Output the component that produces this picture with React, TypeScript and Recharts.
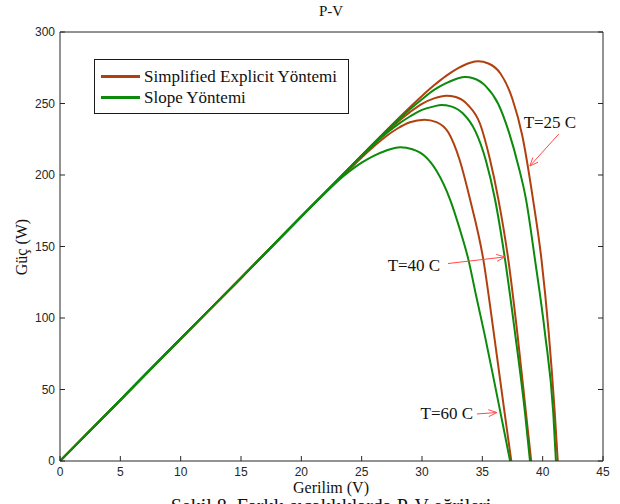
import { LineChart, Line, XAxis, YAxis, Legend, ReferenceLine, ReferenceDot } from 'recharts';

const xTicks = [0, 5, 10, 15, 20, 25, 30, 35, 40, 45];
const yTicks = [0, 50, 100, 150, 200, 250, 300];

// Simplified Explicit Yöntemi (brown)
const se25V = [0, 5, 10, 15, 20, 25, 26, 27, 28, 29, 30, 31, 32, 33, 34, 34.66, 35.5, 36.5, 37.5, 38.3, 39.2, 39.9, 40.5, 41.0, 41.25];
const se25P = [0, 42.7, 85.5, 128, 171, 213.7, 222.3, 230.8, 239.2, 247.4, 255.3, 262.7, 269.3, 274.7, 278.5, 279.5, 278, 271, 253, 228, 183, 141, 90, 34, 0];
const se40V = [0, 5, 10, 15, 20, 24, 25, 26, 27, 28, 29, 30, 31, 32, 32.8, 33.8, 34.8, 35.6, 36.33, 37.15, 37.9, 38.62, 39.05];
const se40P = [0, 42.7, 85.5, 128, 171, 205, 213.5, 221.8, 229.8, 237.3, 244, 249.8, 253.6, 255.5, 254.5, 249, 236, 212, 183, 141, 89.5, 33.4, 0];
const se60V = [0, 5, 10, 15, 20, 24, 25, 26, 27, 28, 29, 30.2, 31.2, 32.2, 33.1, 33.98, 35.08, 35.95, 36.85, 37.4];
const se60P = [0, 42.7, 85.5, 128, 171, 204, 212.2, 219.9, 226.9, 232.7, 236.9, 238.7, 237, 229.5, 211, 183, 141, 89.5, 33.4, 0];

// Slope Yöntemi (green)
const sl25V = [0, 5, 10, 15, 20, 25, 26, 27, 28, 29, 30, 31, 32, 33, 33.55, 34.3, 35.3, 36.3, 37.2, 38, 38.62, 39.36, 40.19, 40.88, 41.1];
const sl25P = [0, 42.7, 85.5, 128, 171, 213.6, 222.2, 230.5, 238.5, 246, 253, 259.5, 264.2, 267.7, 268.5, 267.5, 262, 250, 230, 206, 183, 141, 89.5, 33.4, 0];
const sl40V = [0, 5, 10, 15, 20, 24, 25, 26, 27, 28, 29, 30, 31, 31.6, 32.4, 33.4, 34.4, 35.3, 36.05, 36.88, 37.71, 38.54, 38.95];
const sl40P = [0, 42.7, 85.5, 128, 171, 205, 213.4, 221.4, 228.8, 235.4, 240.9, 245.5, 248, 249, 248, 243, 231, 210, 183, 141, 89.5, 33.4, 0];
const sl60V = [0, 5, 10, 15, 20, 21, 22, 23, 24, 25, 26, 27, 28.2, 29.2, 30.2, 31.2, 32.32, 33.1, 33.84, 34.5, 35.2, 36.0, 36.7, 37.3];
const sl60P = [0, 42.7, 85.5, 128, 171, 179.5, 187.8, 195.6, 202.6, 208.6, 213.4, 217, 219.4, 218, 213.5, 203, 183, 163, 141, 115, 88, 55, 25.5, 0];

const BROWN = '#b0410e';
const GREEN = '#0b8a0b';

const legendItems = [
  { name: 'Simplified Explicit Yöntemi', color: BROWN },
  { name: 'Slope Yöntemi', color: GREEN },
];

// temperature labels: text centre and arrow (from -> to), in data units
const annotations = [
  { text: 'T=25 C', tx: 40.6, ty: 237, from: [41.34, 228.7], to: [38.94, 206.3] },
  { text: 'T=40 C', tx: 29.33, ty: 136.4, from: [32.15, 138.1], to: [36.87, 142.7] },
  { text: 'T=60 C', tx: 32.06, ty: 32.9, from: [34.55, 32.9], to: [36.2, 33.9] },
];

const toPoints = (v: number[], p: number[]) => v.map((x, i) => ({ v: x, p: p[i] }));

const curves = [
  { key: 'se25', color: BROWN, data: toPoints(se25V, se25P) },
  { key: 'se40', color: BROWN, data: toPoints(se40V, se40P) },
  { key: 'se60', color: BROWN, data: toPoints(se60V, se60P) },
  { key: 'sl25', color: GREEN, data: toPoints(sl25V, sl25P) },
  { key: 'sl40', color: GREEN, data: toPoints(sl40V, sl40P) },
  { key: 'sl60', color: GREEN, data: toPoints(sl60V, sl60P) },
];

const serif = '"Liberation Serif", "Times New Roman", serif';
const tickStyle = { fontFamily: '"Liberation Sans", Arial, sans-serif', fontSize: 12, fill: '#262626' };
const axisColor = '#262626';

function Arrow(props: any) {
  const { x1, y1, x2, y2 } = props;
  const ang = Math.atan2(y2 - y1, x2 - x1);
  const len = 9;
  const a1 = ang + Math.PI - 0.4;
  const a2 = ang + Math.PI + 0.4;
  const head = `${x2 + len * Math.cos(a1)},${y2 + len * Math.sin(a1)} ${x2},${y2} ${x2 + len * Math.cos(a2)},${y2 + len * Math.sin(a2)}`;
  return (
    <g>
      <line x1={x1} y1={y1} x2={x2} y2={y2} stroke="#ff4a4a" strokeWidth={1} />
      <polyline points={head} fill="none" stroke="#ff4a4a" strokeWidth={1} />
    </g>
  );
}

function renderLegend() {
  return (
    <div
      style={{
        boxSizing: 'border-box',
        width: 255,
        height: 55,
        border: '1.5px solid #1a1a1a',
        background: '#fff',
        padding: '6px 0 0 6px',
      }}
    >
      {legendItems.map((item) => (
        <div key={item.name} style={{ display: 'flex', alignItems: 'center', height: 21 }}>
          <span style={{ display: 'inline-block', width: 39, height: 2.5, background: item.color }} />
          <span style={{ marginLeft: 4, fontFamily: serif, fontSize: 17, color: '#111', whiteSpace: 'nowrap' }}>{item.name}</span>
        </div>
      ))}
    </div>
  );
}

export default function App() {
  return (
    <div style={{ position: 'absolute', left: 0, top: 0, width: 620, height: 504, overflow: 'hidden', background: '#fff' }}>
      <LineChart width={620} height={504} margin={{ top: 30, right: 15, bottom: 13, left: 0 }}>
        <XAxis
          dataKey="v"
          type="number"
          domain={[0, 45]}
          ticks={xTicks}
          height={30}
          tickSize={-5}
          tickMargin={11}
          tick={tickStyle}
          stroke={axisColor}
          allowDataOverflow
        />
        <XAxis
          xAxisId="top"
          orientation="top"
          type="number"
          domain={[0, 45]}
          ticks={xTicks}
          height={2}
          tickSize={-5}
          tickFormatter={() => ''}
          stroke={axisColor}
          allowDataOverflow
        />
        <YAxis
          type="number"
          domain={[0, 300]}
          ticks={yTicks}
          width={60}
          tickSize={-5}
          tickMargin={10}
          tick={tickStyle}
          stroke={axisColor}
          allowDataOverflow
        />
        <YAxis
          yAxisId="right"
          orientation="right"
          type="number"
          domain={[0, 300]}
          ticks={yTicks}
          width={2}
          tickSize={-5}
          tickFormatter={() => ''}
          stroke={axisColor}
          allowDataOverflow
        />
        <Legend
          layout="vertical"
          align="center"
          verticalAlign="middle"
          content={renderLegend}
          wrapperStyle={{ left: 94, top: 59, width: 255, height: 55 }}
        />
        {curves.map((c) => (
          <Line
            key={c.key}
            data={c.data}
            dataKey="p"
            type="monotone"
            stroke={c.color}
            strokeWidth={2}
            dot={false}
            activeDot={false}
            legendType="none"
            isAnimationActive={false}
          />
        ))}
        {annotations.map((a) => (
          <ReferenceLine
            key={a.text + '-arrow'}
            segment={[{ x: a.from[0], y: a.from[1] }, { x: a.to[0], y: a.to[1] }]}
            shape={(p: any) => <Arrow {...p} />}
          />
        ))}
        {annotations.map((a) => (
          <ReferenceDot
            key={a.text}
            x={a.tx}
            y={a.ty}
            r={0}
            shape={(p: any) => (
              <text x={p.cx} y={p.cy} textAnchor="middle" dominantBaseline="central" fontFamily={serif} fontSize={17} fill="#111">
                {a.text}
              </text>
            )}
          />
        ))}
      </LineChart>
      <div style={{ position: 'absolute', left: 0, top: 3, width: 662, textAlign: 'center', fontFamily: serif, fontSize: 15, color: '#111' }}>
        P-V
      </div>
      <div style={{ position: 'absolute', left: 0, top: 480, width: 662, textAlign: 'center', fontFamily: serif, fontSize: 16, lineHeight: 1, color: '#111' }}>
        Gerilim (V)
      </div>
      <div
        style={{
          position: 'absolute',
          left: 22,
          top: 247,
          transform: 'translate(-50%, -50%) rotate(-90deg)',
          fontFamily: serif,
          fontSize: 16,
          color: '#111',
          whiteSpace: 'nowrap',
        }}
      >
        Güç (W)
      </div>
      <div style={{ position: 'absolute', left: 0, top: 496, width: 662, textAlign: 'center', fontFamily: serif, fontSize: 20, lineHeight: 1, color: '#111', whiteSpace: 'nowrap' }}>
        Şekil 8. Farklı sıcaklıklarda P-V eğrileri
      </div>
    </div>
  );
}
